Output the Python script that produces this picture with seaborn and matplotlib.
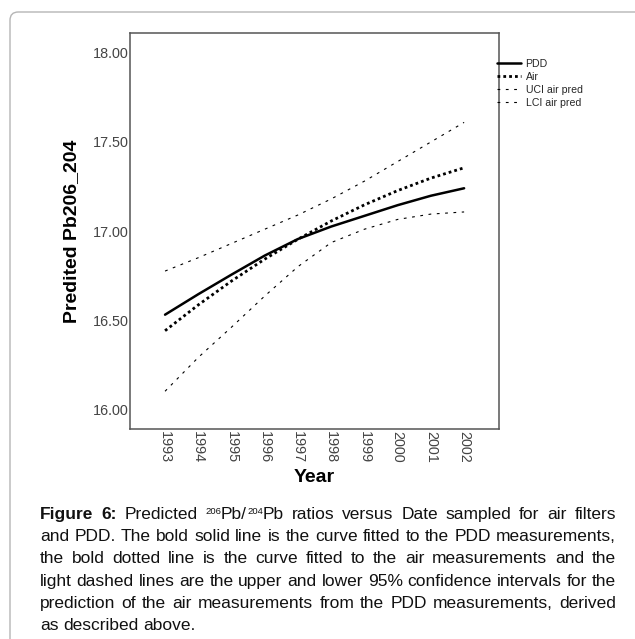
import numpy as np
import pandas as pd
import seaborn as sns
import matplotlib
matplotlib.use("Agg")
import matplotlib.pyplot as plt
from matplotlib.lines import Line2D
from matplotlib.patches import FancyBboxPatch

# ---- data ----
years = [1993, 1994, 1995, 1996, 1997, 1998, 1999, 2000, 2001, 2002]
pdd = [16.53, 16.645, 16.755, 16.862, 16.955, 17.025, 17.085, 17.145, 17.198, 17.24]
air = [16.44, 16.585, 16.719, 16.842, 16.954, 17.056, 17.147, 17.227, 17.297, 17.355]
uci = [16.775, 16.85, 16.93, 17.01, 17.09, 17.18, 17.28, 17.39, 17.50, 17.61]
lci = [16.10, 16.29, 16.46, 16.635, 16.80, 16.935, 17.01, 17.065, 17.095, 17.107]
series_names = ["PDD", "Air", "UCI air pred", "LCI air pred"]
y_ticks = [16.00, 16.50, 17.00, 17.50, 18.00]

sns.set_theme(style="white")
plt.rcParams["font.family"] = ["Liberation Sans", "DejaVu Sans"]

W, H = 635, 639
fig = plt.figure(figsize=(W / 100, H / 100), dpi=100)
fig.patch.set_facecolor("white")

# outer rounded frame (only left and top edges visible)
frame = FancyBboxPatch((10 / W, -0.3), 2.0, (1 - 12 / H) + 0.3,
                       boxstyle="round,pad=0,rounding_size=0.013",
                       transform=fig.transFigure, fill=False,
                       ec="#b5b5b5", lw=1.0)
fig.add_artist(frame)

ax = fig.add_axes([130 / W, 1 - 429 / H, 369 / W, 396 / H])

df = pd.DataFrame({"Year": years, "PDD": pdd, "Air": air,
                   "UCI air pred": uci, "LCI air pred": lci})

styles = {
    "PDD": dict(lw=1.8, ls="-"),
    "Air": dict(lw=2.0, ls=(0, (1, 1.1))),
    "UCI air pred": dict(lw=0.8, ls=(0, (2.5, 5))),
    "LCI air pred": dict(lw=0.8, ls=(0, (2.5, 5))),
}
handles = []
for name in series_names:
    st = styles[name]
    sns.lineplot(data=df, x="Year", y=name, ax=ax, color="black",
                 linewidth=st["lw"], legend=False)
    ln = ax.lines[-1]
    ln.set_linestyle(st["ls"])
    ln.set_dash_capstyle("butt")
    handles.append(Line2D([], [], color="black", lw=st["lw"], ls=st["ls"]))

ax.set_xlim(1991.945, 2003.05)
ax.set_ylim(15.888, 18.112)
ax.set_xticks(years)
ax.set_xticklabels([str(y) for y in years], rotation=-90)
ax.set_yticks(y_ticks)
ax.set_yticklabels([f"{v:.2f}" for v in y_ticks])
ax.tick_params(direction="in", length=7.5, width=1.0, color="#333333",
               labelsize=10.4, labelcolor="#444444", pad=1.0)
ax.tick_params(axis="x", pad=1.5)
for sp in ax.spines.values():
    sp.set_color("#555555")
    sp.set_linewidth(1.1)

ax.set_xlabel("Year", fontsize=14, fontweight="bold", color="black", labelpad=4)
ax.set_ylabel("Predited Pb206_204", fontsize=14, fontweight="bold",
              color="black", labelpad=9)

ax.legend(handles, series_names, loc="upper left",
          bbox_to_anchor=(497 / W, 1 - 59 / H), bbox_transform=fig.transFigure,
          frameon=False, fontsize=7.6, handlelength=2.3, handletextpad=0.4,
          labelspacing=0.28, borderpad=0, borderaxespad=0)

# ---- caption (justified) ----
cap_size = 12.5
sup_size = 6.8
lines = [
    [[("Figure", "b")], [("6:", "b")], [("Predicted", "n")],
     [("206", "s"), ("Pb/", "n"), ("204", "s"), ("Pb", "n")],
     [("ratios", "n")], [("versus", "n")], [("Date", "n")], [("sampled", "n")],
     [("for", "n")], [("air", "n")], [("filters", "n")]],
    "and PDD. The bold solid line is the curve fitted to the PDD measurements,",
    "the bold dotted line is the curve fitted to the air measurements and the",
    "light dashed lines are the upper and lower 95% confidence intervals for the",
    "prediction of the air measurements from the PDD measurements, derived",
    "as described above.",
]
left_px, right_px = 40, 616
base0, dy = 519, 22.2
renderer = fig.canvas.get_renderer()


def make_run(x, y, txt, kind):
    kw = dict(fontsize=cap_size, color="#111111", va="baseline", ha="left")
    if kind == "b":
        kw["fontweight"] = "bold"
    if kind == "s":
        kw["fontsize"] = sup_size
        y = y + 5.0 / H
    return fig.text(x, y, txt, **kw)


def run_width(txt, kind):
    t = make_run(0, 0, txt, kind)
    w = t.get_window_extent(renderer).width
    t.remove()
    return w


space = run_width("a a", "n") - 2 * run_width("a", "n")

for i, ln in enumerate(lines):
    if isinstance(ln, str):
        words = [[(w, "n")] for w in ln.split(" ")]
    else:
        words = ln
    y = 1 - (base0 + i * dy) / H
    widths = [sum(run_width(txt, kind) for txt, kind in w) for w in words]
    if i < len(lines) - 1:
        gap = (right_px - left_px - sum(widths)) / (len(words) - 1)
        gap = max(gap, 0.6 * space)
    else:
        gap = space
    x = left_px
    for w, wd in zip(words, widths):
        xx = x
        for txt, kind in w:
            make_run(xx / W, y, txt, kind)
            xx += run_width(txt, kind)
        x += wd + gap

fig.savefig("out.png", dpi=100, facecolor="white")
